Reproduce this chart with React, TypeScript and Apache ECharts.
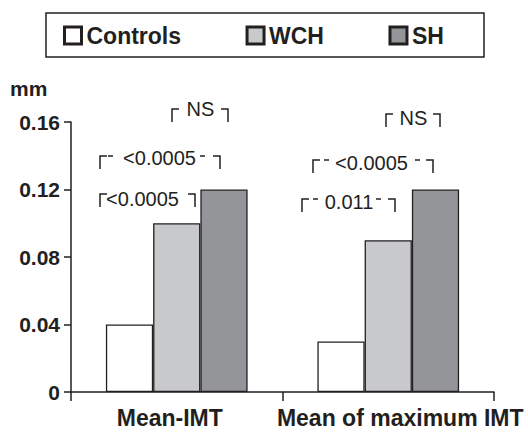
import React, { useEffect, useRef } from "react";
import * as echarts from "echarts";

// ---- data ----
const categories = ["Mean-IMT", "Mean of maximum IMT"];
const seriesNames = ["Controls", "WCH", "SH"];
const controlsValues = [0.04, 0.03];
const wchValues = [0.1, 0.09];
const shValues = [0.12, 0.12];
const yTicks = [0, 0.04, 0.08, 0.12, 0.16];
const yUnit = "mm";
const annotationLabels = ["NS", "<0.0005", "<0.0005", "NS", "<0.0005", "0.011"];
const annotationDashed = [false, true, false, false, true, true];

// ---- layout / styles ----
const FONT = '"Liberation Sans", Arial, Helvetica, sans-serif';
const INK = "#231f20";
const seriesColors = ["#ffffff", "#c8c9cb", "#939598"];
const catLabelPads = [
  [0, 14, 0, 0],
  [0, 0, 0, 24],
];
// bracket geometry: left x, right x, top y, text center x/y, dash positions
const annotationLayout = [
  { xL: 172, xR: 228, yT: 109, tx: 200.5, ty: 109, dL: 0, dR: 0 },
  { xL: 100, xR: 220, yT: 156, tx: 159.5, ty: 158, dL: 108, dR: 200 },
  { xL: 100, xR: 195, yT: 194, tx: 142.5, ty: 199, dL: 0, dR: 0 },
  { xL: 386, xR: 440, yT: 114, tx: 413.5, ty: 118, dL: 0, dR: 0 },
  { xL: 313, xR: 433, yT: 160, tx: 371.5, ty: 163, dL: 324, dR: 415 },
  { xL: 302, xR: 395, yT: 199, tx: 349, ty: 201.5, dL: 313, dR: 376 },
];

export default function App() {
  const ref = useRef<HTMLDivElement>(null);

  useEffect(() => {
    if (!ref.current) return;
    const chart = echarts.init(ref.current, null, { renderer: "svg" });

    const graphics: any[] = [];
    // legend frame
    graphics.push({
      type: "rect",
      shape: { x: 46, y: 13, width: 438, height: 44 },
      style: { fill: null, stroke: INK, lineWidth: 1.5 },
      silent: true,
    });
    // unit label
    graphics.push({
      type: "text",
      x: 10,
      y: 88,
      style: {
        text: yUnit,
        fontSize: 21,
        fontWeight: "bold",
        fontFamily: FONT,
        fill: INK,
        align: "left",
        verticalAlign: "middle",
      },
    });
    annotationLabels.forEach((label, i) => {
      const a = annotationLayout[i];
      const arm = 7;
      const drop = 13;
      graphics.push({
        type: "polyline",
        shape: { points: [[a.xL, a.yT + drop], [a.xL, a.yT], [a.xL + arm, a.yT]] },
        style: { fill: null, stroke: INK, lineWidth: 1.5 },
      });
      graphics.push({
        type: "polyline",
        shape: { points: [[a.xR - arm, a.yT], [a.xR, a.yT], [a.xR, a.yT + drop]] },
        style: { fill: null, stroke: INK, lineWidth: 1.5 },
      });
      if (annotationDashed[i]) {
        [a.dL, a.dR].forEach((dx) => {
          graphics.push({
            type: "line",
            shape: { x1: dx, y1: a.yT, x2: dx + 5, y2: a.yT },
            style: { stroke: INK, lineWidth: 1.5 },
          });
        });
      }
      graphics.push({
        type: "text",
        x: a.tx,
        y: a.ty,
        style: {
          text: label,
          fontSize: 20,
          fontFamily: FONT,
          fill: INK,
          align: "center",
          verticalAlign: "middle",
        },
      });
    });

    const seriesData = [controlsValues, wchValues, shValues];
    const labelStyle = { fontSize: 23, fontWeight: "bold", color: INK, fontFamily: FONT };
    const rich: any = {};
    catLabelPads.forEach((p, i) => {
      rich["c" + i] = { ...labelStyle, padding: p };
    });

    chart.setOption({
      animation: false,
      backgroundColor: "#ffffff",
      textStyle: { fontFamily: FONT },
      legend: {
        data: seriesNames,
        left: 63,
        top: 24,
        padding: 0,
        itemGap: 64.5,
        itemWidth: 17,
        itemHeight: 17,
        icon: "rect",
        itemStyle: { borderColor: INK, borderWidth: 3 },
        textStyle: { fontSize: 23, fontWeight: "bold", color: INK, fontFamily: FONT },
        selectedMode: false,
      },
      grid: { left: 71, right: 34, top: 122, bottom: 42, containLabel: false },
      xAxis: {
        type: "category",
        data: categories,
        axisLine: { lineStyle: { color: INK, width: 1.5 } },
        axisTick: { show: true, length: 9, lineStyle: { color: INK, width: 1.5 } },
        axisLabel: {
          ...labelStyle,
          margin: 14,
          interval: 0,
          formatter: (v: string, i: number) => `{c${i}|${v}}`,
          rich,
        },
      },
      yAxis: {
        type: "value",
        min: yTicks[0],
        max: yTicks[yTicks.length - 1],
        interval: yTicks[1] - yTicks[0],
        splitLine: { show: false },
        axisLine: { show: true, lineStyle: { color: INK, width: 1.5 } },
        axisTick: { show: true, length: 7, lineStyle: { color: INK, width: 1.5 } },
        axisLabel: {
          fontSize: 21,
          fontWeight: "bold",
          color: INK,
          fontFamily: FONT,
          margin: 11,
          formatter: (v: number) => (v === 0 ? "0" : v.toFixed(2)),
        },
      },
      series: seriesNames.map((name, i) => ({
        name,
        type: "bar",
        data: seriesData[i],
        barGap: "0%",
        barCategoryGap: "33%",
        itemStyle: { color: seriesColors[i], borderColor: INK, borderWidth: 1.3 },
      })),
      graphic: graphics,
    });

    return () => chart.dispose();
  }, []);

  return (
    <div
      ref={ref}
      style={{ position: "fixed", left: 0, top: 0, width: 528, height: 434, background: "#fff" }}
    />
  );
}
